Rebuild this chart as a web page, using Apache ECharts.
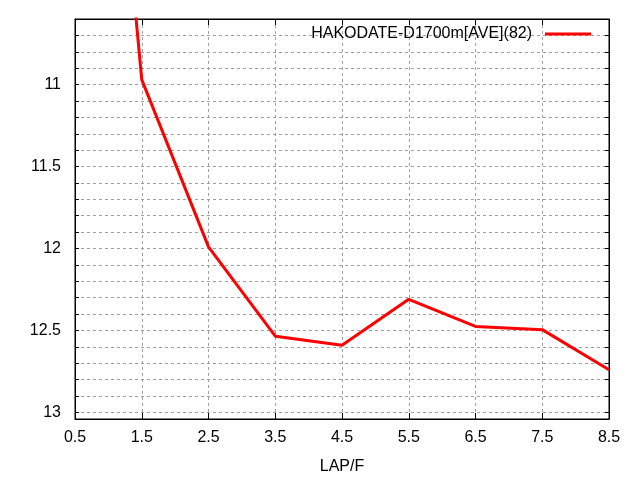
<!DOCTYPE html>
<html>
<head>
<meta charset="utf-8">
<script src="https://cdn.jsdelivr.net/npm/echarts@6/dist/echarts.min.js"></script>
<style>
  html, body { margin: 0; padding: 0; background: #fff; }
  #main { width: 640px; height: 480px; }
</style>
</head>
<body>
<div id="main"></div>
<script>
// 数据
const seriesName = "HAKODATE-D1700m[AVE](82)"
const laps = [0.5, 1.5, 2.5, 3.5, 4.5, 5.5, 6.5, 7.5, 8.5]
const times = [6.6, 10.97, 11.99, 12.535, 12.59, 12.31, 12.475, 12.495, 12.74]
const yMin = 10.6
const yMax = 13.04

const font = "Liberation Sans, Arial, sans-serif"
const gridLine = { show: true, lineStyle: { color: "#a0a0a0", type: [3, 3], width: 1 } }
const isHalf = (v) => Math.abs(v * 2 - Math.round(v * 2)) < 1e-6

const chart = echarts.init(document.getElementById("main"), null, { renderer: "canvas" })

chart.setOption({
    animation: false,
    backgroundColor: "#fff",
    grid: {
        left: 75, right: 31, top: 19, bottom: 61,
        show: true, borderColor: "#000", borderWidth: 1
    },
    legend: {
        right: 44, top: 21,
        align: "right",
        icon: "rect",
        itemWidth: 46, itemHeight: 3,
        itemGap: 0,
        textStyle: { fontSize: 16, fontFamily: font, color: "#000", padding: [0, 8, 0, 0] },
        data: [seriesName]
    },
    xAxis: [
        {
            type: "value",
            min: 0.5, max: 8.5, interval: 1,
            name: "LAP/F",
            nameLocation: "middle",
            nameGap: 40,
            nameTextStyle: { fontSize: 16, fontFamily: font, color: "#000" },
            axisLine: { show: true, lineStyle: { color: "#000" } },
            axisTick: { show: true, inside: true, length: 6, lineStyle: { color: "#000" } },
            axisLabel: { fontSize: 16, fontFamily: font, color: "#000", margin: 11 },
            splitLine: gridLine
        },
        {
            type: "value",
            position: "top",
            min: 0.5, max: 8.5, interval: 1,
            axisLine: { show: true, lineStyle: { color: "#000" } },
            axisTick: { show: true, inside: true, length: 6, lineStyle: { color: "#000" } },
            axisLabel: { show: false },
            splitLine: { show: false }
        }
    ],
    yAxis: [
        {
            type: "value",
            inverse: true,
            min: yMin, max: yMax, interval: 0.1,
            axisLine: { show: true, lineStyle: { color: "#000" } },
            axisTick: { show: true, inside: true, length: 4, lineStyle: { color: "#000" } },
            axisLabel: {
                fontSize: 16, fontFamily: font, color: "#000", margin: 14,
                showMaxLabel: false,
                formatter: (v) => (isHalf(v) ? String(+v.toFixed(1)) : "")
            },
            splitLine: gridLine
        },
        {
            type: "value",
            position: "right",
            inverse: true,
            min: yMin, max: yMax, interval: 0.1,
            axisLine: { show: true, lineStyle: { color: "#000" } },
            axisTick: { show: true, inside: true, length: 4, lineStyle: { color: "#000" } },
            axisLabel: { show: false },
            splitLine: { show: false }
        }
    ],
    series: [
        {
            name: seriesName,
            type: "line",
            data: laps.map((x, i) => [x, times[i]]),
            showSymbol: false,
            clip: true,
            color: "#ff0000",
            lineStyle: { color: "#ff0000", width: 3 }
        }
    ]
})
</script>
</body>
</html>
